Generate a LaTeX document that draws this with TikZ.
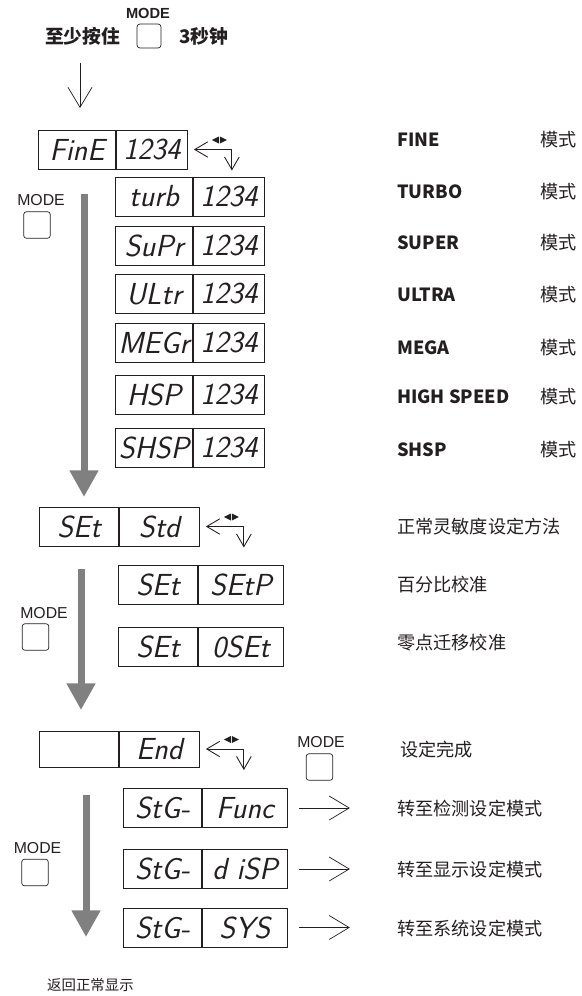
\documentclass[tikz,border=0pt]{standalone}
\usepackage{fontspec}
\usepackage{tikz}
\usetikzlibrary{arrows.meta,positioning,calc}
\newfontfamily\cjk{Noto Sans CJK SC}
\newfontfamily\arial{Liberation Sans}
\definecolor{ink}{HTML}{231F20}
\definecolor{gr}{HTML}{808080}
\tikzset{
  lcd/.style={draw=ink,line width=0.8pt,minimum height=1.17cm,inner sep=0pt,
    text=ink,font=\fontsize{26}{28}\selectfont\sffamily\slshape},
  btn/.style={draw=ink,line width=0.6pt,rounded corners=2.5pt,minimum size=0.8cm},
  lab/.style={anchor=west,inner sep=0pt,text=ink,font=\cjk\fontsize{15.5}{18}\selectfont},
  labb/.style={anchor=west,inner sep=0pt,text=ink,font=\cjk\bfseries\fontsize{15.5}{18}\selectfont},
  modetxt/.style={inner sep=0pt,text=ink,font=\arial\fontsize{13.5}{15}\selectfont},
  thinarr/.style={ink,line width=0.6pt,-{Straight Barb[length=0.6cm,width=0.72cm]}},
  cyc/.style={ink,line width=0.75pt,{Straight Barb[length=0.39cm,width=0.46cm]}-{Straight Barb[length=0.38cm,width=0.44cm]}},
  big/.style={gr,line width=0.21cm,-{Triangle[length=0.8cm,width=0.82cm]}}
}
\begin{document}
\begin{tikzpicture}[x=0.03cm,y=-0.03cm]
  \useasboundingbox (0,0) rectangle (581,996);
  % hold MODE for 3 s
  \node[modetxt,font=\arial\bfseries\fontsize{12.5}{14}\selectfont] (mtop) at (148,13) {MODE};
  \node[btn,minimum size=0.72cm] (btop) at (149,36) {};
  \node[labb,font=\cjk\bfseries\fontsize{16}{18}\selectfont] (hold) at (45,36) {至少按住};
  \node[labb,font=\cjk\bfseries\fontsize{16}{18}\selectfont] (secs) at (179,36) {3秒钟};
  \draw[thinarr] (80,63) -- (80,108);

  % response modes
  \node[lcd,minimum width=2.31cm,anchor=west] (fine-l) at (38,149.5) {FinE};
  \node[lcd,minimum width=2.13cm,right=0pt of fine-l] (fine-r) {1234};
  \foreach \n/\y/\a in {turb/196.5/turb,supr/245.5/SuPr,ultr/294/ULtr,
                       mega/343/MEGr,hsp/394.5/HSP,shsp/448/SHSP} {
    \node[lcd,minimum width=2.31cm,anchor=west] (\n-l) at (115,\y) {\a};
    \node[lcd,minimum width=2.13cm,right=0pt of \n-l] (\n-r) {1234};
  }
  \foreach \n/\y/\t in {fine/140/FINE,turb/192/TURBO,supr/243/SUPER,ultr/295/ULTRA,
                       mega/348/MEGA,hsp/397/HIGH SPEED,shsp/450/SHSP} {
    \node[labb] (t-\n) at (397,\y) {\t};
    \node[lab] (m-\n) at (540,\y) {模式};
  }
  \node[modetxt] (mode1) at (41,200) {MODE};
  \node[btn] (b1) at (37,225) {};
  \draw[big] (84,194) -- (84,497);

  % calibration
  \node[lcd,minimum width=2.37cm,anchor=west] (set-l) at (39,526.5) {SEt};
  \node[lcd,minimum width=2.4cm,right=0pt of set-l] (set-r) {Std};
  \foreach \n/\y/\a in {setp/584.5/SEtP,oset/646.5/0SEt} {
    \node[lcd,minimum width=2.37cm,anchor=west] (\n-l) at (118,\y) {SEt};
    \node[lcd,minimum width=2.55cm,right=0pt of \n-l] (\n-r) {\a};
  }
  \node[lab] (t-set) at (397,527) {正常灵敏度设定方法};
  \node[lab] (t-setp) at (397,585) {百分比校准};
  \node[lab] (t-oset) at (397,643) {零点迁移校准};
  \node[modetxt] (mode2) at (44,613) {MODE};
  \node[btn] (b2) at (35.5,637) {};
  \draw[big] (81,569) -- (81,710);

  % end
  \node[lcd,minimum width=2.37cm,minimum height=1.08cm,anchor=west] (end-l) at (39,749) {};
  \node[lcd,minimum width=2.4cm,minimum height=1.08cm,right=0pt of end-l] (end-r) {End};
  \node[lab] (t-end) at (400,750) {设定完成};
  \node[modetxt] (mode3) at (321,742) {MODE};
  \node[btn] (b3) at (319.5,767) {};

  % stage menus
  \foreach \n/\y/\a/\t in {func/808/Func/转至检测设定模式,disp/869/d iSP/转至显示设定模式,
                          sys/927.5/SYS/转至系统设定模式} {
    \node[lcd,minimum width=2.34cm,anchor=west] (\n-l) at (123,\y) {StG-};
    \node[lcd,minimum width=2.55cm,right=0pt of \n-l] (\n-r) {\a};
    \node[lab] (t-\n) at (397,\y+1) {\t};
    \draw[thinarr] ($(\n-r.east)+(11,0)$) -- ++(51,0);
  }
  \node[modetxt] (mode4) at (37.5,848) {MODE};
  \node[btn] (b4) at (35,872.5) {};
  \draw[big] (86,795) -- (86,937);
  \node[lab,font=\cjk\fontsize{12.3}{14}\selectfont] (back) at (47,985) {返回正常显示};

  % cycle marks
  \foreach \d in {fine-r,set-r,end-r} {
    \draw[cyc] ($(\d.east)+(6,0)$) -- ++(38,0) -- ++(0,21);
    \fill[ink] ($(\d.east)+(24,-9.5)$) -- ++(7,-3.5) -- ++(0,7) -- cycle;
    \fill[ink] ($(\d.east)+(39,-9.5)$) -- ++(-7,-3.5) -- ++(0,7) -- cycle;
  }
\end{tikzpicture}
\end{document}
